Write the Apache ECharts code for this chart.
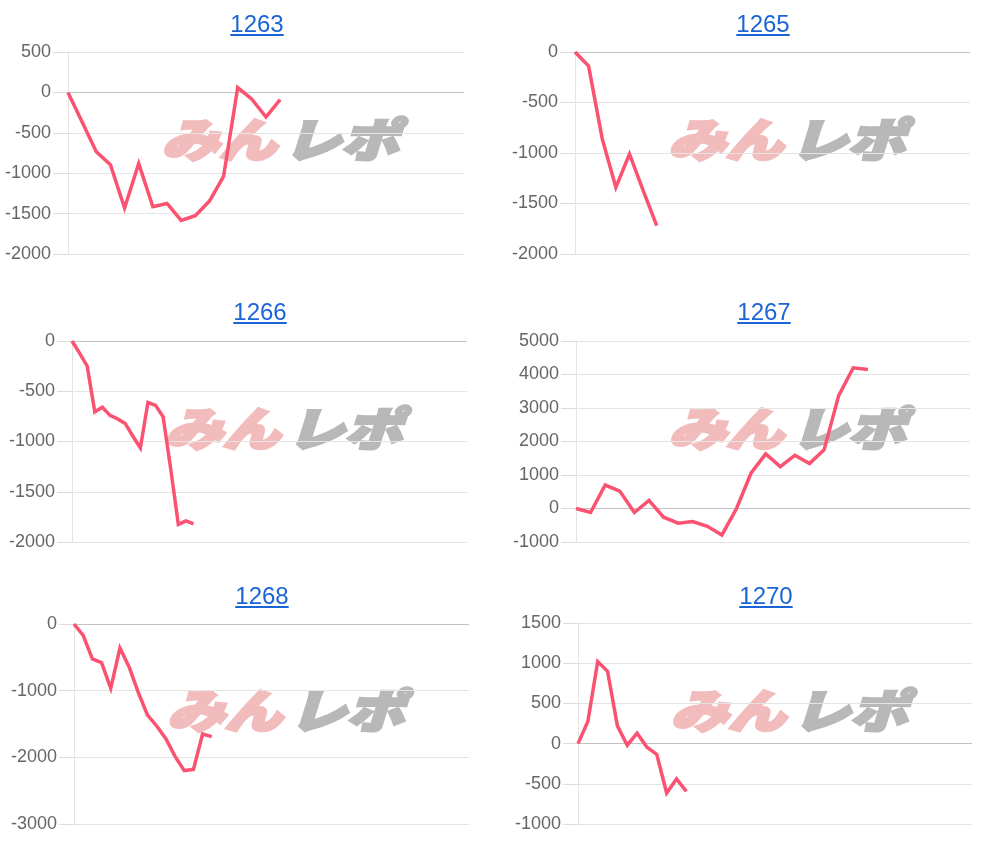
<!DOCTYPE html>
<html>
<head>
<meta charset="utf-8">
<title>slump graphs</title>
<script src="https://cdn.jsdelivr.net/npm/echarts@6/dist/echarts.min.js"></script>
<style>
  body { margin: 0; background: #fff; }
  .wrap { position: relative; width: 1000px; height: 848px; overflow: hidden; }
  #chart { position: absolute; left: 0; top: 0; width: 1000px; height: 848px; }
  .ttl {
    position: absolute;
    transform: translateX(-50%);
    font: 24px/24px 'Liberation Sans', Arial, sans-serif;
    color: #1a64d6;
    text-decoration: underline;
    white-space: nowrap;
  }
</style>
</head>
<body>
<div class="wrap" id="wrap">
  <div id="chart"></div>
</div>
<script>
  // machine numbers (panel titles)
  const machines = ['1263', '1265', '1266', '1267', '1268', '1270'];
  // number of x slots on each chart's axis
  const xCounts = [29, 30, 53, 28, 44, 41];

  // medal difference per slot
  const diff1263 = [0, -365, -735, -895, -1430, -880, -1415, -1375, -1585, -1525, -1345, -1040, 60, -85, -305, -90];
  const diff1265 = [0, -140, -860, -1340, -1010, -1370, -1720];
  const diff1266 = [0, -120, -250, -705, -660, -740, -775, -820, -945, -1065, -610, -640, -755, -1275, -1825, -1790, -1820];
  const diff1267 = [0, -120, 700, 520, -120, 240, -260, -440, -390, -530, -790, 0, 1060, 1630, 1250, 1590, 1340, 1750, 3370, 4200, 4150];
  const diff1268 = [0, -170, -525, -580, -965, -360, -645, -1030, -1365, -1530, -1720, -1985, -2200, -2180, -1650, -1690];
  const diff1270 = [0, 275, 1020, 900, 220, -20, 130, -45, -135, -615, -440, -595];
  const diffs = [diff1263, diff1265, diff1266, diff1267, diff1268, diff1270];

  // y axis ranges
  const yMin = [-2000, -2000, -2000, -1000, -3000, -1000];
  const yMax = [500, 0, 0, 5000, 0, 1500];
  const yStep = [500, 500, 500, 1000, 1000, 500];

  // plot boxes and title spots
  const panels = [
    { left: 68, top: 52, width: 396, height: 202, titleX: 257, titleTop: 12 },
    { left: 575, top: 52, width: 395, height: 202, titleX: 763, titleTop: 12 },
    { left: 72, top: 341, width: 395, height: 201, titleX: 260, titleTop: 300 },
    { left: 576, top: 341, width: 394, height: 201, titleX: 764, titleTop: 300 },
    { left: 74, top: 624, width: 395, height: 200, titleX: 262, titleTop: 584 },
    { left: 578, top: 623, width: 394, height: 201, titleX: 766, titleTop: 584 }
  ];

  const gridColor = '#e4e4e4';
  const zeroColor = '#c2c2c2';
  const lineColor = '#fa5270';

  const wrap = document.getElementById('wrap');
  machines.forEach((m, i) => {
    const a = document.createElement('a');
    a.className = 'ttl';
    a.href = '#';
    a.textContent = m;
    a.style.left = panels[i].titleX + 'px';
    a.style.top = panels[i].titleTop + 'px';
    wrap.appendChild(a);
  });

  const markFont = 'italic 900 46px "Noto Sans CJK JP"';

  const grid = [], xAxis = [], yAxis = [], series = [], graphic = [];
  machines.forEach((m, i) => {
    const p = panels[i];
    grid.push({ left: p.left, top: p.top, width: p.width, height: p.height });

    xAxis.push({
      type: 'category',
      gridIndex: i,
      boundaryGap: false,
      data: Array.from({ length: xCounts[i] }, (_, k) => k + 1),
      axisLine: { show: false },
      axisTick: { show: false },
      axisLabel: { show: false },
      splitLine: { show: false }
    });

    const nTicks = (yMax[i] - yMin[i]) / yStep[i] + 1;
    const zeroIdx = -yMin[i] / yStep[i];
    const splitColors = Array.from({ length: nTicks }, (_, k) => k === zeroIdx ? zeroColor : gridColor);
    yAxis.push({
      type: 'value',
      gridIndex: i,
      min: yMin[i],
      max: yMax[i],
      interval: yStep[i],
      axisLine: { show: true, lineStyle: { color: gridColor } },
      axisTick: { show: true, inside: false, length: 15, lineStyle: { color: '#dcdcdc', width: 1 } },
      axisLabel: {
        color: '#666', fontSize: 18, margin: 17, fontFamily: 'Liberation Sans',
        formatter: v => String(v)
      },
      splitLine: { show: true, lineStyle: { color: splitColors, width: 1 } }
    });

    series.push({
      name: m,
      type: 'line',
      xAxisIndex: i,
      yAxisIndex: i,
      data: diffs[i],
      showSymbol: false,
      symbol: 'none',
      smooth: false,
      z: 5,
      lineStyle: { color: lineColor, width: 3.5, join: 'miter' },
      emphasis: { disabled: true }
    });

    // site watermark behind the line
    graphic.push({
      type: 'group',
      x: p.left + p.width / 2 + 15,
      y: p.top + p.height / 2 - 13,
      silent: true,
      z: 1,
      children: [
        {
          type: 'text', x: -62, y: 0, scaleX: 1.25,
          style: {
            text: 'みん', font: markFont,
            fill: '#f2bcbc', stroke: '#f2bcbc', lineWidth: 3,
            align: 'center', verticalAlign: 'middle'
          }
        },
        {
          type: 'text', x: 60, y: 0, scaleX: 1.25,
          style: {
            text: 'レポ', font: markFont,
            fill: '#b8b8b8', stroke: '#b8b8b8', lineWidth: 3,
            align: 'center', verticalAlign: 'middle'
          }
        }
      ]
    });
  });

  const chart = echarts.init(document.getElementById('chart'), null, { renderer: 'canvas' });
  chart.setOption({
    animation: false,
    backgroundColor: '#fff',
    grid, xAxis, yAxis, series, graphic
  });
</script>
</body>
</html>
